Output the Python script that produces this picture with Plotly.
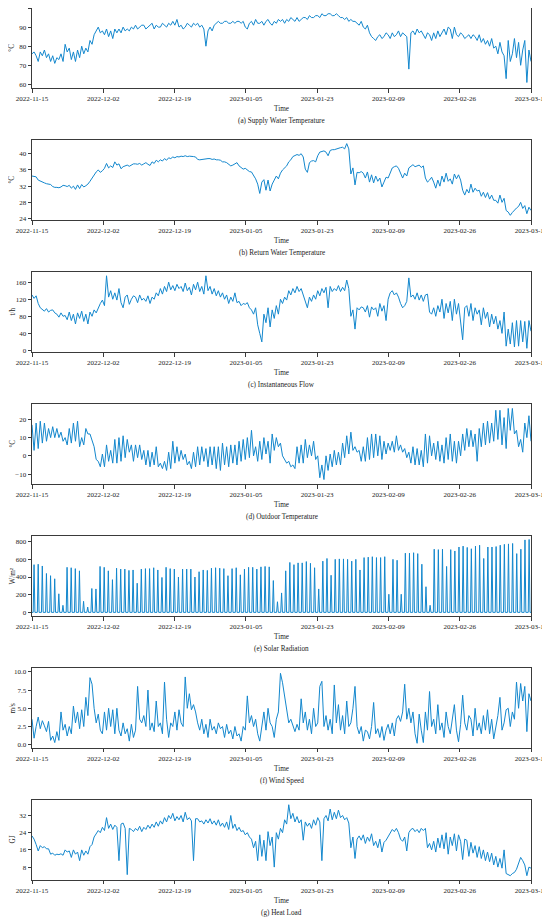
import pandas as pd
import plotly.graph_objects as go
from plotly.subplots import make_subplots

START = "2022-11-15 00:00"
END = "2023-03-15 23:00"
TICK_LABELS = ["2022-11-15", "2022-12-02", "2022-12-19", "2023-01-05",
               "2023-01-23", "2023-02-09", "2023-02-26", "2023-03-15"]

# two readings per day (approx. 12 h apart)
supply_temp = [
    76, 77, 75, 72, 77, 75, 78, 74, 76, 72, 75, 71, 74, 73, 76, 72, 81, 77, 79, 73,
    77, 72, 78, 74, 80, 76, 79, 77, 83, 81, 86, 88, 90, 87, 88, 86, 89, 85, 88, 84,
    89, 87, 89, 87, 90, 88, 89, 88, 90, 89, 91, 89, 90, 91, 91, 89, 90, 91, 92, 89,
    91, 90, 90, 92, 91, 90, 92, 91, 93, 91, 94, 90, 91, 89, 90, 92, 91, 90, 92, 91,
    92, 90, 91, 89, 80, 88, 90, 88, 91, 92, 93, 92, 92, 93, 93, 92, 92, 93, 92, 93,
    93, 92, 93, 90, 89, 92, 93, 91, 94, 92, 92, 93, 91, 93, 94, 92, 91, 93, 92, 94,
    93, 94, 92, 94, 93, 95, 94, 93, 95, 93, 94, 95, 95, 94, 96, 95, 95, 96, 96, 95,
    97, 96, 96, 97, 97, 96, 96, 97, 96, 95, 95, 94, 95, 93, 94, 93, 93, 92, 91, 93,
    90, 89, 91, 87, 85, 84, 83, 85, 86, 84, 85, 87, 86, 84, 87, 85, 86, 88, 85, 87,
    86, 85, 68, 87, 88, 86, 89, 87, 88, 86, 84, 87, 86, 83, 87, 84, 88, 85, 87, 89,
    86, 90, 89, 84, 90, 86, 85, 87, 86, 84, 85, 86, 84, 86, 85, 83, 86, 82, 84, 81,
    83, 80, 84, 79, 80, 76, 82, 77, 75, 63, 83, 72, 76, 84, 74, 82, 70, 78, 83, 61, 78, 72,
]

return_temp = [
    34.5, 34.4, 34.3, 33.5, 33.2, 33.0, 32.8, 32.6, 32.5, 32.4, 31.9, 31.7, 31.7, 31.6, 31.8, 32.2, 32.1, 31.9, 32.2, 31.5,
    32.0, 31.2, 32.3, 31.4, 32.4, 31.8, 32.1, 32.5, 33.2, 34.0, 35.0, 35.5, 36.0, 35.4, 35.8, 36.4, 37.6, 36.5, 37.0, 36.6,
    38.0, 37.2, 37.5, 36.3, 36.8, 37.0, 37.2, 36.9, 37.3, 37.5, 37.5, 37.4, 37.6, 37.2, 37.5, 37.8, 37.4, 37.1, 38.0, 37.6,
    38.4, 38.0, 38.5, 38.2, 38.8, 38.4, 39.0, 38.8, 39.2, 39.0, 39.3, 39.2, 39.4, 39.3, 39.5, 39.3, 39.4, 39.4, 39.3, 39.2,
    38.6, 38.5, 38.6, 38.7, 38.7, 38.8, 38.8, 38.6, 38.7, 38.5, 38.5, 38.4, 38.0, 38.0, 37.8, 37.5, 37.0, 37.2, 37.5, 37.8,
    37.0, 36.6, 36.2, 36.4, 36.0, 35.6, 35.5, 34.8, 33.8, 32.5, 30.2, 33.0, 33.6, 31.0, 33.5, 30.8, 32.5, 33.5, 34.5, 33.8,
    35.2, 36.0, 36.5, 37.0, 38.0, 38.5, 39.3, 39.6, 39.8, 39.6, 40.0, 39.2, 36.2, 35.4, 37.8, 38.2, 38.3, 38.0, 39.5, 40.4,
    40.5, 40.7, 40.4, 39.5, 40.8, 41.0, 41.0, 41.2, 41.3, 41.5, 41.6, 41.2, 42.5, 41.2, 35.0, 36.5, 32.3, 35.4, 35.3, 35.6,
    35.2, 34.0, 35.5, 33.0, 34.8, 32.8, 34.5, 33.2, 34.0, 31.8, 33.0, 34.2, 34.0, 35.5, 36.5, 36.8, 37.0, 36.4, 35.0, 34.0,
    35.2, 34.5, 36.5, 37.0, 37.3, 36.8, 37.0, 37.2, 36.6, 37.0, 34.0, 33.0, 33.5, 34.2, 33.0, 31.5, 33.5, 32.0, 34.5, 33.0,
    35.2, 33.2, 33.8, 32.5, 35.0, 33.8, 34.8, 33.5, 31.0, 29.8, 31.2, 30.3, 32.5, 30.5, 31.5, 30.8, 31.0, 29.5, 30.5, 29.2,
    30.4, 28.8, 29.8, 28.5, 28.5, 27.8, 29.8, 28.0, 29.0, 26.0, 25.6, 24.8, 25.5, 26.2, 26.6, 27.0, 28.0, 26.5, 27.2, 25.2, 26.8, 26.0,
]

flow = [
    130, 122, 128, 110, 100, 95, 92, 98, 90, 94, 95, 88, 85, 78, 88, 80, 82, 72, 90, 70,
    85, 62, 88, 75, 92, 68, 85, 62, 90, 80, 95, 88, 100, 110, 118, 105, 175, 125, 140, 120,
    135, 118, 145, 112, 100, 125, 130, 108, 120, 128, 125, 112, 130, 118, 122, 115, 128, 110, 125, 120,
    135, 128, 145, 132, 150, 138, 160, 142, 152, 140, 155, 145, 150, 138, 158, 140, 148, 130, 155, 142,
    160, 138, 150, 132, 175, 140, 150, 132, 145, 128, 140, 125, 135, 120, 130, 110, 125, 115, 135, 112,
    115, 105, 110, 108, 112, 100, 95, 85, 100, 60, 40, 20, 85, 65, 100, 55, 95, 75, 105, 85,
    120, 110, 125, 118, 140, 130, 145, 135, 150, 138, 145, 130, 110, 100, 125, 115, 130, 120, 140, 128,
    145, 135, 148, 100, 150, 138, 145, 140, 152, 138, 148, 140, 165, 145, 80, 95, 50, 100, 95, 102,
    100, 90, 105, 78, 102, 95, 100, 80, 110, 92, 105, 70, 120, 135, 140, 130, 135, 125, 110, 100,
    105, 115, 170, 125, 130, 120, 135, 118, 130, 115, 130, 132, 90, 85, 100, 80, 105, 90, 120, 75,
    110, 88, 115, 70, 120, 85, 110, 65, 25, 100, 105, 80, 110, 70, 100, 85, 95, 60, 100, 75,
    90, 55, 85, 62, 80, 50, 70, 40, 90, 10, 50, 15, 65, 8, 70, 10, 70, 20, 68, 5, 70, 45,
]

# daily maximum and minimum outdoor temperature
outdoor_max = [
    17, 18, 19, 18, 15, 16, 15, 13, 10, 15, 18, 19, 10, 15, 12, 5, -3, 1, 6, 3,
    9, 10, 11, 9, 6, 6, 6, 3, 3, 2, 5, -4, -3, 2, 8, 5, 3, 1, -3, 2,
    5, 5, 4, 5, 5, 5, 7, 5, 6, 6, 8, 9, 10, 14, 5, 8, 10, 8, 12, 10,
    7, -2, -3, -5, 5, 6, 9, 6, 8, 0, -5, 0, 1, 3, 2, 7, 11, 13, 5, 3,
    5, 10, 12, 12, 11, 8, 7, 8, 11, 6, 4, 2, 5, 4, 3, 12, 11, 7, 8, 6,
    10, 12, 8, 8, 12, 15, 14, 12, 15, 18, 19, 18, 25, 25, 21, 26, 26, 14, 9, 18, 22,
]
outdoor_min = [
    3, 4, 7, 8, 10, 10, 10, 8, 6, 7, 8, 5, 6, 12, 8, -2, -6, -6, -3, -4,
    -4, -3, -1, 2, -3, -1, -2, -5, -6, -5, -6, -7, -8, -7, -4, -3, -2, -5, -7, -6,
    -5, -3, -6, -5, -7, -8, -5, -6, -4, -5, -3, -2, -1, 0, -3, -2, 1, -4, 3, 5,
    0, -4, -6, -7, -4, -4, -1, 0, -2, -12, -13, -8, -6, -5, -5, -1, 1, 3, 2, -3,
    -3, -2, -1, 0, -2, 1, 3, 2, 3, 2, -1, -4, -5, -5, -6, -4, 0, -2, -3, -4,
    -2, -3, -4, 0, 3, 5, 5, -3, 5, 6, 7, 8, 9, 6, 4, 14, 12, 5, 2, 10, 8,
]

# daily peak of solar radiation (zero at night)
solar_peak = [
    540, 545, 525, 440, 415, 380, 210, 80, 510, 505, 495, 470, 125, 60, 270, 265, 520, 510, 470, 370,
    500, 490, 490, 475, 480, 330, 490, 495, 495, 505, 480, 395, 510, 495, 490, 400, 490, 490, 490, 400,
    460, 480, 475, 500, 505, 500, 495, 415, 495, 505, 425, 490, 510, 510, 490, 515, 520, 515, 360, 120,
    220, 470, 565, 540, 560, 560, 575, 555, 505, 265, 580, 610, 420, 600, 605, 605, 600, 580, 600, 480,
    620, 625, 630, 620, 620, 630, 205, 600, 590, 205, 670, 670, 675, 665, 545, 290, 80, 715, 710, 715,
    520, 710, 695, 740, 750, 735, 720, 750, 760, 610, 740, 740, 745, 760, 770, 775, 780, 665, 715, 820, 825,
]

wind_speed = [
    3.5, 0.9, 2.5, 3.8, 2.2, 3.3, 2.6, 1.8, 3.2, 0.6, 1.2, 0.3, 1.8, 0.6, 4.5, 2.0, 2.8, 1.2, 2.5, 1.5,
    5.3, 3.0, 4.5, 2.2, 4.8, 2.5, 6.5, 4.0, 9.2, 8.3, 5.0, 3.0, 4.2, 2.0, 1.5, 4.5, 2.0, 5.0, 2.5, 4.8,
    1.5, 5.0, 2.0, 1.2, 3.0, 1.5, 2.2, 0.5, 2.8, 1.0, 2.0, 8.0, 3.5, 3.0, 4.0, 2.5, 7.5, 2.0, 3.0, 1.8,
    6.0, 2.5, 3.0, 1.5, 8.6, 3.5, 1.0, 3.0, 2.5, 4.5, 2.0, 4.8, 3.0, 2.5, 9.3, 5.0, 7.0, 4.8, 5.5, 4.5,
    3.0, 2.0, 3.5, 1.5, 2.8, 1.0, 3.5, 2.0, 2.5, 1.5, 3.0, 2.2, 2.5, 1.0, 2.8, 1.5, 2.0, 0.8, 2.5, 1.2,
    1.5, 0.5, 2.5, 2.0, 6.7, 3.0, 4.0, 2.5, 3.5, 1.5, 0.5, 2.8, 4.5, 2.0, 5.0, 3.0, 2.5, 1.0, 3.5, 4.5,
    9.8, 8.5, 6.5, 5.0, 3.0, 3.5, 2.5, 1.8, 2.8, 2.0, 6.3, 3.0, 4.5, 2.0, 3.5, 1.5, 5.0, 2.5, 3.0, 8.0,
    8.7, 2.5, 4.0, 2.0, 3.5, 1.5, 8.2, 3.0, 5.5, 2.0, 4.0, 1.5, 6.0, 2.5, 3.0, 5.0, 8.0, 2.5, 1.5, 2.5,
    0.5, 2.0, 1.8, 0.8, 2.5, 5.8, 1.5, 2.2, 1.0, 2.5, 0.6, 2.0, 2.8, 1.5, 3.0, 1.2, 3.5, 4.0, 3.2, 4.5,
    8.3, 3.5, 5.0, 3.0, 4.5, 1.5, 0.2, 4.2, 2.0, 0.3, 4.5, 2.0, 7.3, 2.5, 3.5, 1.5, 5.5, 2.0, 3.0, 1.0,
    4.5, 2.5, 1.5, 3.2, 5.5, 2.0, 0.4, 2.8, 6.8, 3.0, 2.0, 4.0, 3.5, 1.2, 5.0, 2.0, 3.0, 1.5, 4.0, 2.0,
    4.8, 1.5, 3.5, 0.8, 2.5, 4.0, 6.5, 2.0, 3.0, 4.8, 5.0, 2.5, 4.5, 3.5, 8.6, 5.0, 8.4, 6.0, 8.0, 1.8, 7.0, 6.0,
]

heat_load = [
    22.5, 21.0, 18.5, 15.5, 18.0, 17.0, 17.5, 16.5, 16.5, 14.0, 14.5, 13.5, 14.0, 13.8, 14.2, 13.5, 16.0, 15.0, 15.5, 12.5,
    16.0, 14.0, 15.0, 11.0, 16.0, 13.5, 15.5, 14.0, 17.5, 18.5, 22.0, 23.5, 25.0, 24.0, 26.5, 25.0, 31.0, 26.0, 28.0, 25.5,
    27.5, 26.5, 11.0, 28.0, 28.5, 26.0, 4.5, 26.0, 25.5, 24.5, 26.0, 25.0, 27.0, 24.5, 26.5, 25.5, 27.5, 26.0, 28.0, 26.5,
    29.0, 27.0, 29.5, 28.0, 31.0, 29.0, 32.0, 30.5, 33.0, 29.5, 31.5, 30.0, 32.0, 29.0, 33.5, 30.0, 31.0, 29.5, 11.0, 30.5,
    30.5, 29.0, 29.5, 28.0, 30.0, 28.5, 30.5, 28.0, 29.5, 27.5, 30.0, 27.0, 28.5, 26.5, 29.0, 25.5, 32.0, 26.0, 28.0, 25.0,
    26.5, 24.5, 25.0, 23.0, 24.0, 22.0, 21.0, 17.0, 20.0, 11.0, 23.0, 13.0, 20.5, 11.0, 24.5, 18.0, 22.0, 8.0, 24.0, 21.0,
    26.0, 24.0, 30.0, 28.0, 37.0, 30.5, 33.0, 29.0, 31.5, 28.5, 30.0, 20.5, 29.0, 27.0, 28.5, 26.0, 30.0, 27.5, 31.0, 29.0,
    11.0, 30.5, 32.0, 29.5, 35.0, 30.0, 33.5, 30.5, 34.5, 31.0, 32.0, 30.0, 31.0, 28.5, 17.0, 22.0, 12.0, 21.0, 22.5, 20.5,
    23.0, 19.0, 22.0, 20.0, 23.5, 18.0, 20.0, 17.0, 21.0, 15.0, 19.5, 20.5, 22.0, 24.0, 25.5, 24.5, 26.0, 24.0, 21.0, 20.0,
    22.0, 15.5, 24.0, 25.5, 26.0, 24.5, 25.5, 24.0, 26.0, 25.0, 26.0, 17.0, 19.0, 16.0, 20.0, 15.0, 21.5, 17.0, 23.0, 16.5,
    24.0, 14.0, 22.0, 18.0, 23.5, 15.5, 23.0, 20.0, 11.5, 21.0, 20.5, 13.0, 19.5, 14.5, 18.0, 12.5, 17.5, 12.0, 16.0, 11.0,
    15.0, 10.5, 14.5, 9.0, 13.0, 8.0, 12.0, 7.5, 16.0, 5.0, 4.5, 4.0, 5.0, 5.5, 7.0, 9.5, 12.5, 11.0, 9.0, 4.0, 8.0, 7.5,
]

UNITS = ["°C", "°C", "t/h", "°C", "W/m²", "m/s", "GJ"]
CAPTIONS = ["(a) Supply Water Temperature", "(b) Return Water Temperature",
            "(c) Instantaneous Flow", "(d) Outdoor Temperature",
            "(e) Solar Radiation", "(f) Wind Speed", "(g) Heat Load"]
Y_TICKS = [[60, 70, 80, 90, 100], [24, 28, 32, 36, 40], [0, 40, 80, 120, 160],
           [-10, 0, 10, 20], [0, 200, 400, 600, 800], [0, 2.5, 5, 7.5, 10],
           [8, 16, 24, 32]]
Y_RANGES = [[58, 100], [23.6, 43.4], [-4, 184], [-15.5, 28.5],
            [-42, 866], [-0.45, 10.55], [2, 39.3]]

LINE = "#1387cd"
FONT = "Liberation Serif"
# the page body keeps its default 8px margin, so the figure is 8px smaller
W, H = 542, 913
ML, MR, MT, MB = 23.5, 19, 0, 41
PLOT_H = H - MT - MB


def even_times(n):
    return pd.date_range(START, END, periods=n)


outdoor = [v for pair in zip(outdoor_max, outdoor_min) for v in pair]

days = pd.date_range("2022-11-15", periods=len(solar_peak), freq="D")
solar_x, solar_y = [pd.Timestamp(START)], [0]
for day, peak in zip(days, solar_peak):
    solar_x += [day + pd.Timedelta(hours=7), day + pd.Timedelta(hours=12),
                day + pd.Timedelta(hours=17)]
    solar_y += [0, peak, 0]
solar_x.append(pd.Timestamp(END))
solar_y.append(0)

series = [
    (even_times(len(supply_temp)), supply_temp),
    (even_times(len(return_temp)), return_temp),
    (even_times(len(flow)), flow),
    (even_times(len(outdoor)), outdoor),
    (solar_x, solar_y),
    (even_times(len(wind_speed)), wind_speed),
    (even_times(len(heat_load)), heat_load),
]

# 7 panels of ~80px with ~52px between them
fig = make_subplots(rows=7, cols=1, vertical_spacing=51.75 / PLOT_H)

tick_pos = [str(t) for t in pd.date_range(START, END, periods=len(TICK_LABELS))]
axis_style = dict(showline=True, mirror=True, linecolor="#3a3a3a", linewidth=0.9,
                  ticks="outside", ticklen=3.5, tickwidth=0.8, tickcolor="#3a3a3a",
                  showgrid=False, zeroline=False, automargin=False,
                  tickfont=dict(family=FONT, size=7, color="#222"))

for i, (xs, ys) in enumerate(series):
    row = i + 1
    fig.add_trace(go.Scatter(x=xs, y=ys, mode="lines", showlegend=False,
                             line=dict(color=LINE, width=1.0)), row=row, col=1)
    fig.update_xaxes(range=[START, END], tickmode="array", tickvals=tick_pos,
                     ticktext=TICK_LABELS, row=row, col=1, **axis_style)
    fig.update_yaxes(range=Y_RANGES[i], tickmode="array", tickvals=Y_TICKS[i],
                     tickformat=".1f" if i == 5 else "d", row=row, col=1, **axis_style)

annotations = []
for i in range(7):
    name = "yaxis" if i == 0 else f"yaxis{i + 1}"
    d0, d1 = fig.layout[name].domain
    txt = dict(family=FONT, size=7.2, color="#222")
    annotations.append(dict(xref="paper", yref="paper", x=-0.039, y=(d0 + d1) / 2,
                            text=UNITS[i], textangle=-90, showarrow=False, font=txt,
                            xanchor="center", yanchor="middle"))
    annotations.append(dict(xref="paper", yref="paper", x=0.5, y=d0 - 21 / PLOT_H,
                            text="Time", showarrow=False, font=txt, yanchor="middle"))
    annotations.append(dict(xref="paper", yref="paper", x=0.5, y=d0 - 33 / PLOT_H,
                            text=CAPTIONS[i], showarrow=False, font=txt, yanchor="middle"))

fig.update_layout(width=W, height=H, margin=dict(l=ML, r=MR, t=MT, b=MB),
                  plot_bgcolor="white", paper_bgcolor="white",
                  font=dict(family=FONT, size=7.2, color="#222"),
                  annotations=annotations)

fig.write_html("out.html")
